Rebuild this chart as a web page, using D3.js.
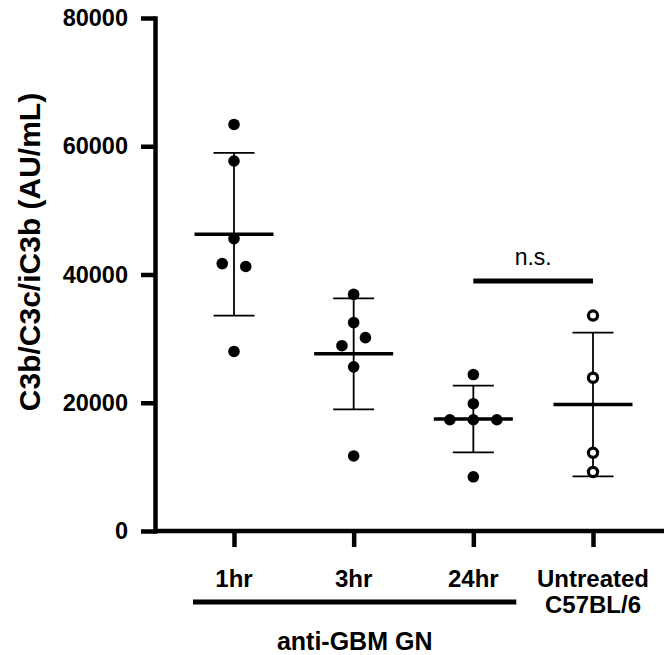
<!DOCTYPE html>
<html lang="en">
<head>
    <meta charset="UTF-8">
    <title>C3b/C3c/iC3b scatter</title>
    <script src="https://d3js.org/d3.v7.min.js"></script>
    <style>
        body { margin: 0; background: #fff; }
        text { font-family: "Liberation Sans", Arial, Helvetica, sans-serif; fill: #000; }
    </style>
</head>
<body>
    <svg id="chart" width="664" height="655"></svg>
    <script>
        // data
        const groups = ["1hr", "3hr", "24hr", "Untreated"];
        const groupLabels = [["1hr"], ["3hr"], ["24hr"], ["Untreated", "C57BL/6"]];
        const vals1hr = [63400, 57700, 45600, 41700, 41250, 28000];
        const vals3hr = [36900, 32500, 28900, 30150, 25600, 11700];
        const vals24hr = [24400, 19850, 17350, 17350, 17350, 8450];
        const valsUntreated = [33600, 23900, 12200, 9200];
        const openMarker = [false, false, false, true];
        const yTicks = [0, 20000, 40000, 60000, 80000];
        const nsPair = ["24hr", "Untreated"];
        const nsValue = 39000;
        const bracketGroups = ["1hr", "24hr"];

        const allVals = [vals1hr, vals3hr, vals24hr, valsUntreated];

        const svg = d3.select("#chart");
        const W = +svg.attr("width");

        const y = d3.scaleLinear().domain([0, 80000]).range([531, 18]);
        const x = d3.scalePoint().domain(groups).range([234, 593]);
        const axisX = 155;

        // y axis
        const yAxis = svg.append("g")
            .attr("transform", `translate(${axisX},0)`)
            .call(d3.axisLeft(y).tickValues(yTicks).tickSize(14).tickSizeOuter(0).tickPadding(13).tickFormat(d3.format("d")));
        yAxis.select(".domain").attr("stroke-width", 4.5).attr("stroke-linecap", "square");
        yAxis.selectAll(".tick line").attr("stroke-width", 4.5);
        yAxis.selectAll(".tick text")
            .style("font-size", "23.5px").style("font-weight", "bold")
            .attr("font-family", null);

        // x axis line runs to the right edge
        svg.append("line")
            .attr("x1", axisX).attr("x2", W)
            .attr("y1", y(0)).attr("y2", y(0))
            .attr("stroke", "#000").attr("stroke-width", 4.5);

        const xAxis = svg.append("g")
            .attr("transform", `translate(0,${y(0)})`)
            .call(d3.axisBottom(x).tickSize(16).tickFormat(""));
        xAxis.select(".domain").remove();
        xAxis.selectAll(".tick line").attr("stroke-width", 4.5);

        // category labels
        groups.forEach((g, i) => {
            const t = svg.append("text")
                .attr("x", x(g))
                .attr("y", 587)
                .attr("text-anchor", "middle")
                .style("font-size", "24px").style("font-weight", "bold");
            groupLabels[i].forEach((line, j) => {
                t.append("tspan").attr("x", x(g)).attr("dy", j === 0 ? 0 : 26).text(line);
            });
        });

        // anti-GBM bracket
        svg.append("line")
            .attr("x1", x(bracketGroups[0]) - 41).attr("x2", x(bracketGroups[1]) + 43)
            .attr("y1", 602).attr("y2", 602)
            .attr("stroke", "#000").attr("stroke-width", 5);
        svg.append("text")
            .attr("x", (x(bracketGroups[0]) - 41 + x(bracketGroups[1]) + 43) / 2)
            .attr("y", 650)
            .attr("text-anchor", "middle")
            .style("font-size", "25px").style("font-weight", "bold")
            .text("anti-GBM GN");

        // y title
        svg.append("text")
            .attr("transform", `translate(29,${252}) rotate(-90)`)
            .attr("text-anchor", "middle")
            .attr("dominant-baseline", "central")
            .style("font-size", "30px").style("font-weight", "bold")
            .text("C3b/C3c/iC3b (AU/mL)");

        // spread points that would overlap (same as prism scatter)
        function spread(vals) {
            const idx = d3.range(vals.length).sort((a, b) => vals[b] - vals[a]);
            const off = new Array(vals.length).fill(0);
            let cluster = [idx[0]];
            const flush = () => {
                cluster.sort((a, b) => a - b);
                cluster.forEach((k, j) => off[k] = (j - (cluster.length - 1) / 2) * 23.5);
            };
            for (let i = 1; i < idx.length; i++) {
                if (Math.abs(y(vals[idx[i]]) - y(vals[idx[i - 1]])) < 11) cluster.push(idx[i]);
                else { flush(); cluster = [idx[i]]; }
            }
            flush();
            return off;
        }

        allVals.forEach((vals, i) => {
            const cx = x(groups[i]);
            const m = d3.mean(vals);
            const sd = d3.deviation(vals);
            const g = svg.append("g");

            // error bar
            g.append("line")
                .attr("x1", cx).attr("x2", cx)
                .attr("y1", y(m + sd)).attr("y2", y(m - sd))
                .attr("stroke", "#000").attr("stroke-width", 1.8);
            [m + sd, m - sd].forEach(v => {
                g.append("line")
                    .attr("x1", cx - 20.5).attr("x2", cx + 20.5)
                    .attr("y1", y(v)).attr("y2", y(v))
                    .attr("stroke", "#000").attr("stroke-width", 1.8);
            });

            const off = spread(vals);
            g.selectAll("circle")
                .data(vals)
                .join("circle")
                .attr("cx", (d, k) => cx + off[k])
                .attr("cy", d => y(d))
                .attr("r", openMarker[i] ? 4.6 : 5.8)
                .attr("fill", openMarker[i] ? "#fff" : "#000")
                .attr("stroke", openMarker[i] ? "#000" : "none")
                .attr("stroke-width", 3.2);

            // mean line
            g.append("line")
                .attr("x1", cx - 39.5).attr("x2", cx + 39.5)
                .attr("y1", y(m)).attr("y2", y(m))
                .attr("stroke", "#000").attr("stroke-width", 3.5);
        });

        // n.s. comparison
        svg.append("line")
            .attr("x1", x(nsPair[0])).attr("x2", x(nsPair[1]))
            .attr("y1", y(nsValue)).attr("y2", y(nsValue))
            .attr("stroke", "#000").attr("stroke-width", 5);
        svg.append("text")
            .attr("x", (x(nsPair[0]) + x(nsPair[1])) / 2)
            .attr("y", y(nsValue) - 16)
            .attr("text-anchor", "middle")
            .style("font-size", "23px")
            .text("n.s.");
    </script>
</body>
</html>
